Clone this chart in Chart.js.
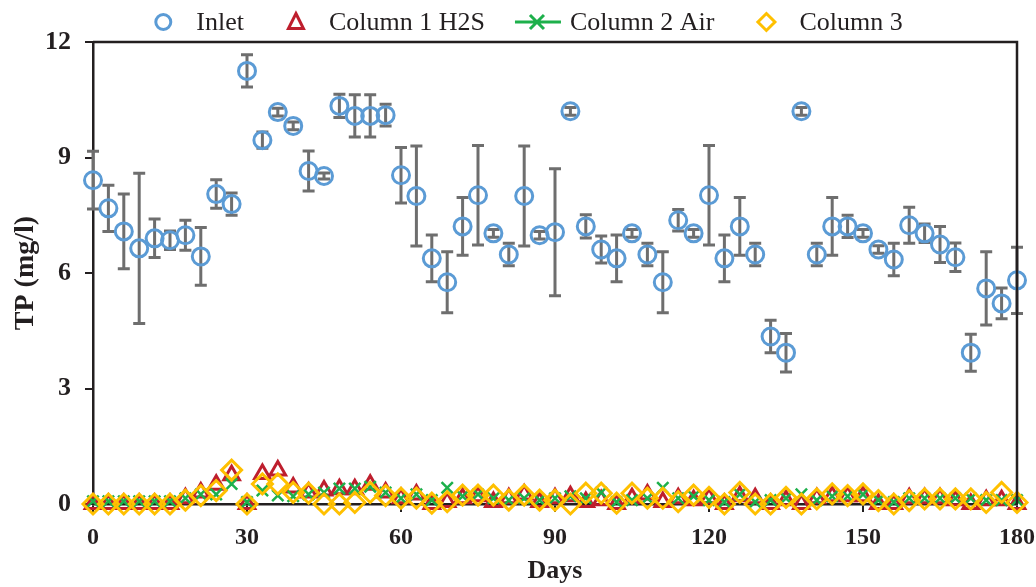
<!DOCTYPE html>
<html lang="en">
<head>
    <meta charset="UTF-8">
    <title>TP vs Days</title>
    <script src="https://cdn.jsdelivr.net/npm/chart.js"></script>
    <style>
        html, body { margin: 0; padding: 0; background: #fff; }
        .chart-container { width: 1036px; height: 587px; position: relative; }
    </style>
</head>
<body>
    <div class="chart-container">
        <canvas id="grafico-tp"></canvas>
    </div>

<script>
    // sampling days
    const days = [0, 3, 6, 9, 12, 15, 18, 21, 24, 27, 30, 33, 36, 39, 42, 45, 48, 51, 54, 57,
        60, 63, 66, 69, 72, 75, 78, 81, 84, 87, 90, 93, 96, 99, 102, 105, 108, 111, 114, 117,
        120, 123, 126, 129, 132, 135, 138, 141, 144, 147, 150, 153, 156, 159, 162, 165, 168, 171, 174, 177, 180];

    // inlet TP (mg/l) and its standard deviation
    const inletTP = [8.41, 7.68, 7.08, 6.64, 6.9, 6.85, 6.98, 6.43, 8.05, 7.79, 11.25, 9.45, 10.18, 9.82, 8.65, 8.52, 10.34, 10.08, 10.08, 10.1,
        8.54, 8.0, 6.38, 5.76, 7.21, 8.02, 7.03, 6.48, 8.0, 6.98, 7.06, 10.2, 7.21, 6.61, 6.38, 7.03, 6.48, 5.76, 7.37, 7.03,
        8.02, 6.38, 7.21, 6.48, 4.35, 3.93, 10.2, 6.48, 7.21, 7.21, 7.03, 6.61, 6.35, 7.24, 7.03, 6.74, 6.41, 3.93, 5.6, 5.21, 5.81];
    const inletSD = [0.75, 0.6, 0.97, 1.95, 0.5, 0.24, 0.39, 0.75, 0.37, 0.29, 0.42, 0.21, 0.1, 0.1, 0.52, 0.08, 0.3, 0.55, 0.55, 0.28,
        0.72, 1.3, 0.61, 0.79, 0.75, 1.29, 0.1, 0.29, 1.3, 0.1, 1.65, 0.1, 0.3, 0.35, 0.61, 0.1, 0.29, 0.79, 0.28, 0.1,
        1.29, 0.61, 0.75, 0.29, 0.42, 0.5, 0.1, 0.29, 0.75, 0.29, 0.1, 0.1, 0.42, 0.47, 0.24, 0.47, 0.37, 0.48, 0.95, 0.4, 0.86];

    // effluent columns
    const column1H2S = [0, 0, 0, 0, 0, 0, 0.15, 0.3, 0.5, 0.75, 0, 0.78, 0.87, 0.43, 0.3, 0.35, 0.38, 0.38, 0.5, 0.3,
        0.15, 0.25, 0, 0.05, 0.15, 0.2, 0.05, 0.15, 0.25, 0.05, 0.15, 0.2, 0.05, 0.1, 0, 0.15, 0.25, 0.05, 0.15, 0.1,
        0.15, 0, 0.2, 0.15, 0, 0.1, 0, 0.15, 0.2, 0.2, 0.2, 0, 0, 0.15, 0.15, 0.15, 0.1, 0, 0.1, 0.1, 0];
    const column2Air = [0.07, 0.07, 0.07, 0.07, 0.07, 0.07, 0.15, 0.25, 0.25, 0.52, 0.05, 0.35, 0.22, 0.2, 0.25, 0.3, 0.4, 0.4, 0.45, 0.3,
        0.15, 0.25, 0.1, 0.42, 0.2, 0.25, 0.15, 0.1, 0.15, 0.1, 0.15, 0.2, 0.15, 0.3, 0.05, 0.1, 0.15, 0.42, 0.15, 0.2,
        0.1, 0.05, 0.25, 0.05, 0.1, 0.15, 0.25, 0.1, 0.2, 0.2, 0.25, 0.1, 0.05, 0.15, 0.15, 0.15, 0.15, 0.15, 0.1, 0.1, 0.1];
    const column3 = [0, 0, 0, 0, 0, 0, 0.1, 0.22, 0.35, 0.88, 0, 0.52, 0.52, 0.3, 0.28, 0, 0, 0.04, 0.3, 0.22,
        0.15, 0.15, 0.02, 0.06, 0.23, 0.23, 0.23, 0.1, 0.23, 0.1, 0.1, 0, 0.28, 0.28, 0.02, 0.28, 0.15, 0.15, 0.06, 0.23,
        0.17, 0, 0.3, 0, 0, 0.17, 0, 0.13, 0.26, 0.22, 0.26, 0.09, 0, 0.09, 0.13, 0.13, 0.13, 0.13, 0.04, 0.3, 0.04];

    const xTicks = [0, 30, 60, 90, 120, 150, 180];
    const yTicks = [0, 3, 6, 9, 12];

    const FONT = '"Liberation Serif", "Times New Roman", serif';
    const INK = '#231F20';

    function pontos(valores) {
        return days.map((d, i) => ({ x: d, y: valores[i] }));
    }

    // error bars of the inlet series, drawn under the markers
    const errorBars = {
        id: 'errorBars',
        beforeDatasetsDraw(chart) {
            const { ctx, scales: { x, y } } = chart;
            ctx.save();
            ctx.strokeStyle = '#6E6E6E';
            ctx.lineWidth = 3;
            days.forEach((d, i) => {
                const px = x.getPixelForValue(d);
                const top = y.getPixelForValue(inletTP[i] + inletSD[i]);
                const bot = y.getPixelForValue(inletTP[i] - inletSD[i]);
                ctx.beginPath();
                ctx.moveTo(px, top); ctx.lineTo(px, bot);
                ctx.moveTo(px - 6, top); ctx.lineTo(px + 6, top);
                ctx.moveTo(px - 6, bot); ctx.lineTo(px + 6, bot);
                ctx.stroke();
            });
            ctx.restore();
        }
    };

    // top and right side of the plot box
    const frame = {
        id: 'frame',
        afterDraw(chart) {
            const { ctx, chartArea: a } = chart;
            ctx.save();
            ctx.strokeStyle = INK;
            ctx.lineWidth = 2.5;
            ctx.beginPath();
            ctx.moveTo(a.left, a.top); ctx.lineTo(a.right, a.top); ctx.lineTo(a.right, a.bottom);
            ctx.stroke();
            ctx.restore();
        }
    };

    // excel style legend: marker, then label; column 2 shows a line through its marker
    function desenhaIcone(ctx, ds, x, y) {
        ctx.save();
        ctx.strokeStyle = ds.borderColor;
        ctx.lineWidth = 3;
        ctx.beginPath();
        if (ds.pointStyle === 'circle') {
            ctx.arc(x, y, 7.5, 0, Math.PI * 2);
        } else if (ds.pointStyle === 'triangle') {
            ctx.moveTo(x, y - 8.5); ctx.lineTo(x + 7.5, y + 6.5); ctx.lineTo(x - 7.5, y + 6.5); ctx.closePath();
        } else if (ds.pointStyle === 'crossRot') {
            ctx.moveTo(x - 22, y); ctx.lineTo(x + 24, y);
            ctx.moveTo(x - 7, y - 7); ctx.lineTo(x + 7, y + 7);
            ctx.moveTo(x - 7, y + 7); ctx.lineTo(x + 7, y - 7);
        } else {
            ctx.moveTo(x, y - 8.5); ctx.lineTo(x + 8.5, y); ctx.lineTo(x, y + 8.5); ctx.lineTo(x - 8.5, y); ctx.closePath();
        }
        ctx.stroke();
        ctx.restore();
    }

    const legenda = {
        id: 'legenda',
        afterDraw(chart) {
            const ctx = chart.ctx;
            const dsets = chart.data.datasets;
            ctx.save();
            ctx.font = '26px ' + FONT;
            ctx.textBaseline = 'middle';
            const iconGap = 33, itemGap = 52;
            const widths = dsets.map(ds => ctx.measureText(ds.label).width);
            const total = widths.reduce((s, w) => s + iconGap + w, 0) + itemGap * (dsets.length - 1);
            let x = chart.width / 2 + 15 - total / 2;
            const y = 22;
            dsets.forEach((ds, i) => {
                desenhaIcone(ctx, ds, x, y);
                ctx.fillStyle = INK;
                ctx.fillText(ds.label, x + iconGap, y + 1);
                x += iconGap + widths[i] + itemGap;
            });
            ctx.restore();
        }
    };

    const ctx = document.getElementById('grafico-tp').getContext('2d');
    new Chart(ctx, {
        type: 'scatter',
        data: {
            datasets: [{
                label: 'Inlet',
                data: pontos(inletTP),
                pointStyle: 'circle',
                pointRadius: 8.5,
                pointBorderWidth: 3,
                borderColor: '#5B9BD5',
                backgroundColor: 'rgba(255,255,255,0)',
                clip: false,
                order: 3
            }, {
                label: 'Column 1 H2S',
                data: pontos(column1H2S),
                pointStyle: 'triangle',
                pointRadius: 9,
                pointBorderWidth: 3,
                borderColor: '#BE1E2D',
                backgroundColor: 'rgba(255,255,255,0)',
                clip: false,
                order: 2
            }, {
                label: 'Column 2 Air',
                data: pontos(column2Air),
                pointStyle: 'crossRot',
                pointRadius: 8,
                pointBorderWidth: 2.5,
                borderColor: '#1DB04B',
                backgroundColor: 'rgba(255,255,255,0)',
                clip: false,
                order: 1
            }, {
                label: 'Column 3',
                data: pontos(column3),
                pointStyle: 'rectRot',
                pointRadius: 10,
                pointBorderWidth: 3,
                borderColor: '#FFC000',
                backgroundColor: 'rgba(255,255,255,0)',
                clip: false,
                order: 0
            }]
        },
        options: {
            responsive: true,
            maintainAspectRatio: false,
            animation: false,
            layout: { padding: { top: 42, right: 19, left: 0, bottom: 0 } },
            scales: {
                x: {
                    type: 'linear',
                    min: 0,
                    max: 180,
                    afterBuildTicks: s => { s.ticks = xTicks.map(v => ({ value: v })); },
                    afterFit: s => { s.height = 83; s.paddingLeft = 0; s.paddingRight = 0; },
                    ticks: {
                        color: INK,
                        padding: 11,
                        maxRotation: 0,
                        font: { family: FONT, size: 24, weight: 'bold' }
                    },
                    grid: { display: true, drawOnChartArea: false, drawTicks: true, tickLength: 8, color: INK, lineWidth: 2 },
                    border: { display: true, color: INK, width: 2.5 },
                    title: {
                        display: true,
                        text: 'Days',
                        color: INK,
                        padding: { top: 0, bottom: 0 },
                        font: { family: FONT, size: 26, weight: 'bold' }
                    }
                },
                y: {
                    min: 0,
                    max: 12,
                    afterBuildTicks: s => { s.ticks = yTicks.map(v => ({ value: v })); },
                    afterFit: s => { s.width = 93; s.paddingTop = 0; s.paddingBottom = 0; },
                    ticks: {
                        color: INK,
                        padding: 14,
                        font: { family: FONT, size: 26, weight: 'bold' }
                    },
                    grid: { display: true, drawOnChartArea: false, drawTicks: true, tickLength: 8, color: INK, lineWidth: 2 },
                    border: { display: true, color: INK, width: 2.5 },
                    title: {
                        display: true,
                        text: 'TP (mg/l)',
                        color: INK,
                        padding: { top: 9, bottom: 0 },
                        font: { family: FONT, size: 28, weight: 'bold' }
                    }
                }
            },
            plugins: {
                legend: { display: false },
                tooltip: { enabled: false }
            }
        },
        plugins: [errorBars, frame, legenda]
    });
</script>
</body>
</html>
